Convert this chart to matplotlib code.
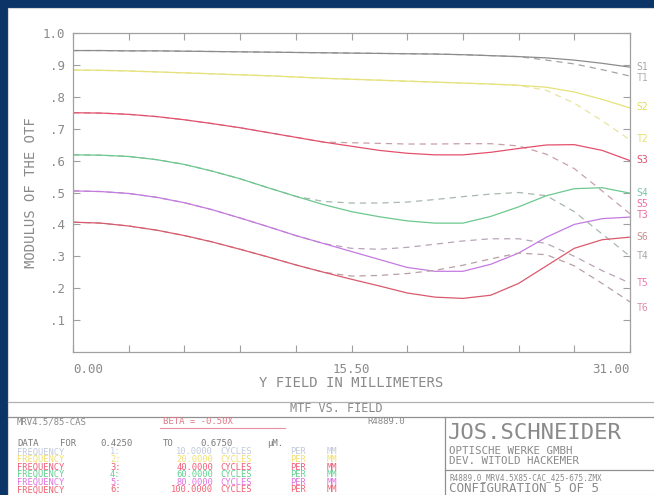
import numpy as np
import matplotlib.pyplot as plt
from matplotlib.lines import Line2D
from matplotlib.patches import Rectangle

# field positions (mm) and modulus values
field = np.linspace(0, 31, 21)

s1 = [0.945, 0.945, 0.944, 0.944, 0.943, 0.942, 0.941, 0.940, 0.939, 0.938, 0.937,
      0.936, 0.935, 0.934, 0.932, 0.929, 0.926, 0.922, 0.915, 0.905, 0.893]
t1 = [0.945, 0.945, 0.944, 0.944, 0.943, 0.942, 0.941, 0.940, 0.939, 0.938, 0.937,
      0.936, 0.935, 0.934, 0.932, 0.929, 0.926, 0.915, 0.903, 0.885, 0.865]
s2 = [0.884, 0.883, 0.881, 0.878, 0.875, 0.872, 0.869, 0.866, 0.862, 0.858, 0.855,
      0.852, 0.849, 0.846, 0.843, 0.840, 0.836, 0.830, 0.815, 0.792, 0.765]
t2 = [0.884, 0.883, 0.881, 0.878, 0.875, 0.872, 0.869, 0.866, 0.862, 0.858, 0.855,
      0.852, 0.849, 0.846, 0.843, 0.840, 0.836, 0.820, 0.780, 0.725, 0.665]
s3 = [0.750, 0.749, 0.745, 0.738, 0.728, 0.716, 0.703, 0.688, 0.673, 0.658, 0.645,
      0.632, 0.623, 0.618, 0.618, 0.626, 0.638, 0.649, 0.650, 0.632, 0.600]
t3 = [0.750, 0.749, 0.745, 0.738, 0.728, 0.716, 0.703, 0.688, 0.673, 0.658, 0.656,
      0.654, 0.652, 0.652, 0.653, 0.653, 0.646, 0.620, 0.575, 0.505, 0.433]
s4 = [0.618, 0.617, 0.613, 0.603, 0.588, 0.567, 0.543, 0.515, 0.488, 0.462, 0.440,
      0.424, 0.411, 0.404, 0.404, 0.425, 0.455, 0.490, 0.512, 0.515, 0.498]
t4 = [0.618, 0.617, 0.613, 0.603, 0.588, 0.567, 0.543, 0.515, 0.488, 0.472, 0.467,
      0.467, 0.470, 0.478, 0.487, 0.495, 0.500, 0.490, 0.440, 0.370, 0.300]
s5 = [0.505, 0.503, 0.497, 0.485, 0.468, 0.446, 0.420, 0.393, 0.365, 0.340, 0.315,
      0.290, 0.265, 0.253, 0.253, 0.275, 0.310, 0.360, 0.400, 0.418, 0.423]
t5 = [0.505, 0.503, 0.497, 0.485, 0.468, 0.446, 0.420, 0.393, 0.365, 0.340, 0.325,
      0.322, 0.328, 0.338, 0.348, 0.355, 0.355, 0.340, 0.300, 0.255, 0.216]
s6 = [0.407, 0.404, 0.395, 0.382, 0.365, 0.345, 0.322, 0.298, 0.273, 0.250, 0.228,
      0.207, 0.185, 0.172, 0.168, 0.178, 0.215, 0.270, 0.325, 0.352, 0.360]
t6 = [0.407, 0.404, 0.395, 0.382, 0.365, 0.345, 0.322, 0.298, 0.273, 0.250, 0.238,
      0.240, 0.246, 0.256, 0.272, 0.292, 0.310, 0.305, 0.270, 0.215, 0.157]

sag = [s1, s2, s3, s4, s5, s6]
tan = [t1, t2, t3, t4, t5, t6]
line_cols = ['#8c8c8c', '#e6e27a', '#e4506c', '#6cc88e', '#c47ae0', '#d95a6c']
dash_cols = ['#a4a4a4', '#e8e4a0', '#c8a0a8', '#a8b8ac', '#b8a4b8', '#b8a0a4']

# curve tags at the right edge: (text, y value, colour)
tags = [('S1', 0.894, '#a8a8a8'), ('T1', 0.858, '#b0b0b0'), ('S2', 0.768, '#e2dc5a'),
        ('T2', 0.667, '#e6e070'), ('S3', 0.603, '#e0506a'), ('S4', 0.500, '#78c8a8'),
        ('S5', 0.463, '#f06aa0'), ('T3', 0.428, '#f06aa0'), ('S6', 0.360, '#c89090'),
        ('T4', 0.301, '#a8a8a8'), ('T5', 0.216, '#f07ab0'), ('T6', 0.138, '#e090a8')]

freq_nums = [1, 2, 3, 4, 5, 6]
freq_vals = ['10.0000', '20.0000', '40.0000', '60.0000', '80.0000', '100.0000']
freq_cols = ['#c0c8dc', '#f0e070', '#f05a78', '#60d090', '#e070e0', '#f06070']

W, H = 654, 495
MONO = 'DejaVu Sans Mono'
GRAY = '#8a8a8a'


def fx(px):
    return px / W


def fy(py):
    return 1 - py / H


fig = plt.figure(figsize=(W / 100, H / 100), dpi=100)
fig.patch.set_facecolor('#0d3466')
fig.patches.append(Rectangle((fx(8), 0), 1, fy(8), transform=fig.transFigure,
                             facecolor='white', edgecolor='#d8d8d8', lw=0.8,
                             zorder=-10))

ax = fig.add_axes([fx(73), fy(352), fx(630) - fx(73), fy(33) - fy(352)])
ax.set_zorder(5)
ax.set_facecolor('white')
for i in range(6):
    ax.plot(field, tan[i], color=dash_cols[i], lw=0.9, ls=(0, (5, 4)))
    ax.plot(field, sag[i], color=line_cols[i], lw=0.9)

ax.set_xlim(0, 31)
ax.set_ylim(0, 1.0)
xt = np.linspace(0, 31, 11)
ax.set_xticks(xt)
ax.set_xticklabels(['0.00', '', '', '', '', '15.50', '', '', '', '', '31.00'])
lbls = ax.get_xticklabels()
lbls[0].set_ha('left')
lbls[-1].set_ha('right')
ax.set_yticks(np.arange(1, 11) / 10)
ax.set_yticklabels(['.1', '.2', '.3', '.4', '.5', '.6', '.7', '.8', '.9', '1.0'])
ax.tick_params(direction='in', length=5, width=0.8, color='#a0a0a0',
               top=True, right=True, labelsize=9, labelcolor=GRAY)
ax.tick_params(axis='x', pad=8)
ax.tick_params(axis='y', pad=6)
for lab in ax.get_xticklabels() + ax.get_yticklabels():
    lab.set_family(MONO)
for sp in ax.spines.values():
    sp.set_color('#a0a0a0')
    sp.set_linewidth(0.9)

ax.set_xlabel('Y FIELD IN MILLIMETERS', family=MONO, fontsize=10, color=GRAY, labelpad=0)
ax.set_ylabel('MODULUS OF THE OTF', family=MONO, fontsize=10, color=GRAY, labelpad=3)

for txt, yv, c in tags:
    ax.text(1.012, yv, txt, transform=ax.get_yaxis_transform(), family=MONO,
            fontsize=7, color=c, va='center', ha='left', clip_on=False)

# title block
fig.add_artist(Line2D([fx(8), 1], [fy(402), fy(402)], color='#b0b0b0', lw=0.9))
fig.add_artist(Line2D([fx(8), 1], [fy(417), fy(417)], color='#909090', lw=0.9))
fig.add_artist(Line2D([fx(445), fx(445)], [fy(417), 0], color='#909090', lw=0.9))
fig.add_artist(Line2D([fx(445), 1], [fy(470), fy(470)], color='#909090', lw=0.9))

fig.text(fx(336), fy(409), 'MTF VS. FIELD', family=MONO, fontsize=8.5, color=GRAY,
         ha='center', va='center')
fig.text(fx(17), fy(422), 'MRV4.5/85-CAS', family=MONO, fontsize=6.5, color=GRAY,
         va='center')
fig.text(fx(163), fy(422), 'BETA = -0.50X', family=MONO, fontsize=6.5, color='#e07888',
         va='center')
fig.add_artist(Line2D([fx(160), fx(285)], [fy(428), fy(428)], color='#e890a0', lw=0.8))
fig.text(fx(367), fy(422), 'R4889.0', family=MONO, fontsize=6.5, color=GRAY, va='center')

data_parts = [('DATA', 17), ('FOR', 60), ('0.4250', 100), ('TO', 163), ('0.6750', 200),
              ('µM.', 267)]
for txt, px in data_parts:
    fig.text(fx(px), fy(444), txt, family=MONO, fontsize=6.5, color='#7a7a7a',
             va='center')

for i in range(6):
    yy = fy(452 + 7.6 * i)
    c = freq_cols[i]
    kw = dict(family=MONO, fontsize=6.3, color=c, va='center')
    fig.text(fx(17), yy, 'FREQUENCY', **kw)
    fig.text(fx(110), yy, '%d:' % freq_nums[i], **kw)
    fig.text(fx(213), yy, freq_vals[i], ha='right', **kw)
    fig.text(fx(220), yy, 'CYCLES', **kw)
    fig.text(fx(290), yy, 'PER', **kw)
    fig.text(fx(327), yy, 'MM', **kw)

fig.text(fx(448), fy(433), 'JOS.SCHNEIDER', family=MONO, fontsize=16, color=GRAY,
         va='center')
fig.text(fx(449), fy(450.5), 'OPTISCHE WERKE GMBH', family=MONO, fontsize=7.8,
         color=GRAY, va='center')
fig.text(fx(449), fy(461.5), 'DEV. WITOLD HACKEMER', family=MONO, fontsize=7.8,
         color=GRAY, va='center')
fig.text(fx(449), fy(478), 'R4889.0_MRV4.5X85-CAC_425-675.ZMX', family=MONO,
         fontsize=5.5, color=GRAY, va='center')
fig.text(fx(449), fy(489), 'CONFIGURATION 5 OF 5', family=MONO, fontsize=9,
         color=GRAY, va='center')

fig.savefig('out.png', dpi=100, facecolor=fig.get_facecolor())
plt.close(fig)
